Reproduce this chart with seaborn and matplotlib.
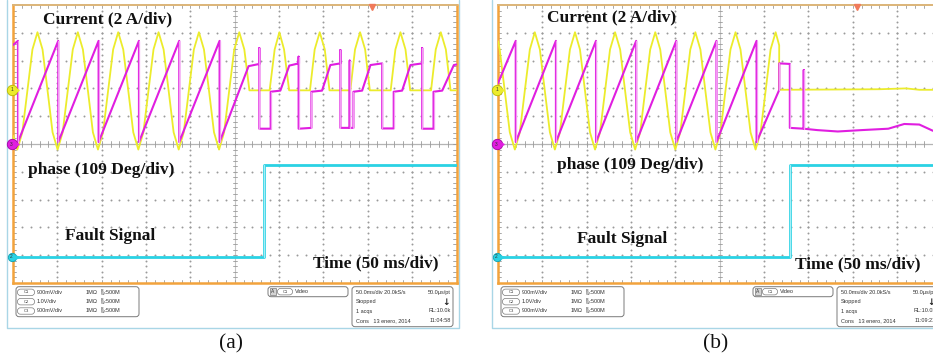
"""
Two oscilloscope captures side by side: coil current, phase estimate and
fault signal, (a) one phase open and (b) converter stopped.

x values are time in ms (50 ms/div), y values are screen divisions (0-10),
read off the captures by eye.
"""

import numpy as np
import pandas as pd
import matplotlib
matplotlib.use("Agg")
import matplotlib.pyplot as plt
import seaborn as sns
from matplotlib.patches import FancyBboxPatch, Rectangle


# ---- (a) ---------------------------------------------------------------
current_a = [
    (0, 5.30), (4.9, 4.80), (10.5, 5.42), (16.2, 6.91), (21.9, 8.40), (27.6, 9.02), (33.3, 8.40), (39.0, 6.91), (44.6, 5.42),
    (50.3, 4.80), (56.0, 5.42), (61.7, 6.91), (67.4, 8.40), (73.1, 9.02), (78.8, 8.40), (84.5, 6.91), (90.1, 5.42),
    (95.8, 4.80), (101.5, 5.42), (107.2, 6.91), (112.9, 8.40), (118.6, 9.02), (124.3, 8.40), (130.0, 6.91), (135.6, 5.42),
    (141.3, 4.80), (147.0, 5.42), (152.7, 6.91), (158.4, 8.40), (164.1, 9.02), (169.8, 8.40), (175.5, 6.91), (181.1, 5.42),
    (186.8, 4.80), (192.5, 5.42), (198.2, 6.91), (203.9, 8.40), (209.6, 9.02), (215.3, 8.40), (221.0, 6.91), (226.6, 5.42),
    (232.3, 4.80), (238.0, 5.42), (243.7, 6.91), (249.4, 8.40), (255.1, 9.02), (260.8, 8.40), (266.5, 6.93),
    (289.3, 6.93), (295.0, 8.40), (300.3, 9.02), (305.6, 8.40), (311.3, 6.93),
    (334.8, 6.93), (340.1, 8.40), (345.8, 9.02), (351.5, 8.40), (356.8, 6.93),
    (380.3, 6.93), (385.6, 8.40), (391.3, 9.02), (397.0, 8.40), (402.3, 6.93),
    (425.8, 6.93), (431.1, 8.40), (436.8, 9.02), (442.5, 8.40), (447.8, 6.93),
    (471.3, 6.93), (476.6, 8.40), (482.3, 9.02), (488.0, 8.40), (493.3, 6.93), (500, 6.93),
]
phase_a = [
    (0, 8.56), (5.6, 8.71), (5.6, 5.07), (51.0, 8.71), (51.0, 5.07), (96.5, 8.71), (96.5, 5.07),
    (142.0, 8.71), (142.0, 5.07), (187.4, 8.71), (187.4, 5.07), (232.9, 8.71), (232.9, 5.07),
    (265.6, 7.80), (277.7, 7.88), (277.7, 8.45), (277.7, 5.55), (290.5, 5.55), (290.5, 6.88),
    (301.4, 6.92), (311.5, 7.82), (322.0, 7.90), (322.0, 8.14), (322.0, 5.55), (336.4, 5.58), (336.4, 6.88),
    (348.4, 6.92), (357.8, 7.84), (369.1, 7.90), (369.1, 8.38), (369.1, 5.58), (379.6, 5.58), (379.6, 8.00),
    (379.6, 5.58), (383.8, 5.58), (383.8, 6.88), (393.6, 6.92), (403.0, 7.84), (416.2, 7.90), (416.2, 5.56),
    (429.2, 5.56), (429.2, 6.88), (438.7, 6.92), (448.1, 7.84), (461.3, 7.90), (461.3, 8.45), (461.3, 5.55),
    (474.1, 5.55), (474.1, 6.88), (483.9, 6.92), (497.0, 7.84), (500, 7.86),
]
fault_a = [(0, 0.95), (282.5, 0.95), (282.5, 4.24), (500, 4.24)]

# ---- (b) ---------------------------------------------------------------
current_b = [
    (0, 8.70), (1.9, 8.40), (7.6, 6.91), (13.3, 5.42), (19.0, 4.80), (24.6, 5.42), (30.2, 6.91), (35.9, 8.40),
    (41.5, 9.02), (47.2, 8.40), (52.8, 6.91), (58.5, 5.42), (64.1, 4.80), (69.8, 5.42), (75.4, 6.91), (81.1, 8.40),
    (86.8, 9.02), (92.4, 8.40), (98.1, 6.91), (103.7, 5.42), (109.4, 4.80), (115.0, 5.42), (120.7, 6.91), (126.3, 8.40),
    (132.0, 9.02), (137.7, 8.40), (143.3, 6.91), (149.0, 5.42), (154.6, 4.80), (160.3, 5.42), (165.9, 6.91), (171.6, 8.40),
    (177.3, 9.02), (182.9, 8.40), (188.6, 6.91), (194.2, 5.42), (199.9, 4.80), (205.5, 5.42), (211.2, 6.91), (216.8, 8.40),
    (222.5, 9.02), (228.2, 8.40), (233.8, 6.91), (239.5, 5.42), (245.1, 4.80), (250.8, 5.42), (256.4, 6.91), (262.1, 8.40),
    (267.8, 9.02), (273.4, 8.40), (279.1, 6.91), (284.7, 5.42), (290.4, 4.80), (296.0, 5.42), (301.7, 6.91), (307.3, 8.40),
    (313.0, 9.02), (317.0, 8.55), (317.0, 6.95), (380, 6.96), (430, 6.97), (460, 7.00), (475, 6.95), (500, 6.95),
]
phase_b = [
    (0, 7.19), (20.0, 8.71), (20.0, 5.07), (65.3, 8.71), (65.3, 5.07), (110.5, 8.71), (110.5, 5.07),
    (155.8, 8.71), (155.8, 5.07), (201.0, 8.71), (201.0, 5.07), (246.3, 8.71), (246.3, 5.07),
    (291.5, 8.71), (291.5, 5.07), (317.1, 6.95), (317.1, 7.90), (329.0, 7.88), (329.0, 5.58),
    (344.7, 5.55), (344.7, 7.66), (344.7, 5.55), (360, 5.50), (383, 5.45), (410, 5.50), (440, 5.55),
    (458, 5.72), (475, 5.70), (490, 5.48), (500, 5.40),
]
fault_b = [(0, 0.92), (329.5, 0.92), (329.5, 4.26), (500, 4.26)]

# channel ground markers (divisions) and readouts
channel_offsets = [6.95, 5.0, 0.95]
channel_names = ["1", "3", "2"]
channel_scales = ["900mV/div", "1.0V/div", "900mV/div"]
clocks = ["11:04:58", "11:09:21"]
panel_tags = ["(a)", "(b)"]

W, H = 933, 357
YELLOW = "#ecec2c"
MAGENTA = "#e01ee0"
PINK = "#f39af3"
CYAN = "#2ad2e4"
CYAN_LIGHT = "#a4eef6"
ORANGE = "#f2a33c"
FRAME = "#a9d6e6"
GRID = "#9a9a9a"
INK = "#333333"

sns.set_theme(style="white")
plt.rcParams["font.family"] = ["Liberation Sans", "DejaVu Sans"]


def trace(ax, pts, color, lw, jump_color=None, z=3):
    df = pd.DataFrame(pts, columns=["t", "v"])
    sns.lineplot(data=df, x="t", y="v", ax=ax, color=color, linewidth=lw,
                 estimator=None, sort=False, zorder=z)
    if jump_color:
        t = df["t"].to_numpy()
        v = df["v"].to_numpy()
        for i in np.where(t[1:] == t[:-1])[0]:
            ax.plot([t[i], t[i]], [v[i], v[i + 1]], color=jump_color, lw=0.9, zorder=z + 0.5)


def screen(ax):
    ax.set_facecolor("white")
    # dotted graticule
    for t in range(50, 500, 50):
        if t != 250:
            dv = np.arange(0.2, 10, 0.2)
            ax.scatter(np.full_like(dv, t), dv, s=2.0, color=GRID, lw=0, zorder=1)
    for v in range(1, 10):
        if v != 5:
            dt = np.arange(10, 500, 10)
            ax.scatter(dt, np.full_like(dt, v, dtype=float), s=2.0, color=GRID, lw=0, zorder=1)
    ax.axhline(5, color="#b4b4b4", lw=0.9, zorder=1)
    ax.axvline(250, color="#c4c4c4", lw=0.8, zorder=1)
    for t in np.arange(10, 500, 10):
        ax.plot([t, t], [4.9, 5.1], color=GRID, lw=0.6, zorder=1)
        ax.plot([t, t], [9.88, 10], color=GRID, lw=0.6, zorder=1)
        ax.plot([t, t], [0, 0.12], color=GRID, lw=0.6, zorder=1)
    for v in np.arange(0.2, 10, 0.2):
        ax.plot([247.5, 252.5], [v, v], color=GRID, lw=0.6, zorder=1)
        ax.plot([0, 3.5], [v, v], color=GRID, lw=0.6, zorder=1)
        ax.plot([496.5, 500], [v, v], color=GRID, lw=0.6, zorder=1)
    ax.set_xlim(0, 500)
    ax.set_ylim(0, 10)
    ax.set(xlabel="", ylabel="", xticks=[], yticks=[])
    for side in ["left", "bottom", "right"]:
        ax.spines[side].set_color(ORANGE)
        ax.spines[side].set_linewidth(1.8)
    ax.spines["top"].set_color("#dcb478")
    ax.spines["top"].set_linewidth(1.4)


def markers(ax):
    colors = [YELLOW, MAGENTA, CYAN]
    edges = ["#b8b800", "#a000a0", "#10a0b0"]
    sizes = [7.5, 7.5, 6.0]
    for off, name, c, e, s in zip(channel_offsets, channel_names, colors, edges, sizes):
        ax.plot(-1.5, off, "o", ms=s, mfc=c, mec=e, mew=0.6, clip_on=False, zorder=6)
        ax.plot(4.5, off, ">", ms=2.5, color=c, clip_on=False, zorder=6)
        ax.text(-1.5, off, name, fontsize=3.5, ha="center", va="center", color="#333333", zorder=7,
                clip_on=False)


def px(x, y):
    return x / W, 1 - y / H


def readouts(bg, ox, clock):
    box = dict(boxstyle="round,pad=0,rounding_size=3", fc="white", ec="#7a7a7a", lw=0.7)
    pill = dict(boxstyle="round,pad=0,rounding_size=3", fc="white", ec="#7a7a7a", lw=0.5)
    bg.add_patch(FancyBboxPatch((ox + 16, 286.7), 123, 30, **box))
    for row, (y, sc) in enumerate(zip([292.3, 301.7, 311.0], channel_scales)):
        bg.add_patch(FancyBboxPatch((ox + 17.5, y - 3.2), 17, 6.4, **pill))
        bg.text(ox + 26, y, f"C{row + 1}", fontsize=3, ha="center", va="center", color=INK)
        bg.text(ox + 37, y, sc, fontsize=4, va="center", color=INK)
        bg.text(ox + 86, y, "1MΩ", fontsize=4, va="center", color=INK)
        bg.text(ox + 100, y, r"$^{\mathrm{B}}_{\mathrm{W}}$:500M", fontsize=4, va="center", color=INK)

    bg.add_patch(FancyBboxPatch((ox + 268, 286.7), 80, 10, **box))
    bg.add_patch(Rectangle((ox + 269.5, 288.4), 6.5, 6.6, fc="#d4d4d4", ec="#7a7a7a", lw=0.5))
    bg.text(ox + 272.7, 291.7, "A", fontsize=3.5, ha="center", va="center", color=INK)
    bg.add_patch(FancyBboxPatch((ox + 277.5, 288.5), 15, 6.4, **pill))
    bg.text(ox + 285, 291.7, "C1", fontsize=3, ha="center", va="center", color=INK)
    bg.text(ox + 295, 291.7, "Video", fontsize=4, va="center", color=INK)

    bg.add_patch(FancyBboxPatch((ox + 352, 286.7), 101, 40, **box))
    left = ["50.0ms/div 20.0kS/s", "Stopped", "1 acqs", "Cons   13 enero, 2014"]
    right = ["50.0µs/pt", "", "RL:10.0k", clock]
    for y, l, r in zip([292.3, 301.7, 311.0, 320.3], left, right):
        bg.text(ox + 356, y, l, fontsize=4, va="center", color=INK)
        bg.text(ox + 451, y, r, fontsize=4, va="center", ha="right", color=INK)
    bg.text(ox + 446.5, 302.5, "↓", fontsize=6.5, fontweight="bold", ha="center", va="center",
            color="#222222", family="DejaVu Sans")


fig = plt.figure(figsize=(W / 100, H / 100), dpi=100)
bg = fig.add_axes([0, 0, 1, 1], zorder=-1)
bg.set_xlim(0, W)
bg.set_ylim(H, 0)
bg.axis("off")

panels = [(current_a, phase_a, fault_a), (current_b, phase_b, fault_b)]
offsets_px = [0, 485]
for (cur, ph, flt), ox, clock in zip(panels, offsets_px, clocks):
    # light-blue capture frame
    bg.plot([ox + 7, ox + 7, ox + 459, ox + 459], [0, 328.3, 328.3, 0], color=FRAME, lw=1.0)
    ax = fig.add_axes([(13 + ox) / W, (H - 283) / H, 443.5 / W, 278 / H], zorder=1)
    screen(ax)
    trace(ax, flt, CYAN, 2.0, jump_color=CYAN_LIGHT, z=3)
    trace(ax, cur, YELLOW, 1.3, z=4)
    trace(ax, ph, MAGENTA, 1.5, jump_color=PINK, z=5)
    ax.set(xlabel="", ylabel="")
    ax.plot(405, 9.93, "v", ms=4, color="#f07a5a", clip_on=False, zorder=6)
    markers(ax)
    readouts(bg, ox, clock)

labels = [
    ("Current (2 A/div)", 43, 19.3), ("phase (109 Deg/div)", 28, 170), ("Fault Signal", 65, 236),
    ("Time (50 ms/div)", 313, 263.3),
    ("Current (2 A/div)", 546.7, 17.7), ("phase (109 Deg/div)", 557, 165), ("Fault Signal", 576.7, 239.3),
    ("Time (50 ms/div)", 795, 264.3),
]
for txt, x, y in labels:
    fig.text(*px(x, y), txt, fontsize=12.5, fontweight="bold", family="Liberation Serif",
             ha="left", va="center", color="#111111", zorder=10)

for tag, x in zip(panel_tags, [231, 716]):
    fig.text(*px(x, 343.5), tag, fontsize=15.5, family="Liberation Serif", ha="center",
             va="center", color="#111111")

fig.savefig("out.png", dpi=100)
